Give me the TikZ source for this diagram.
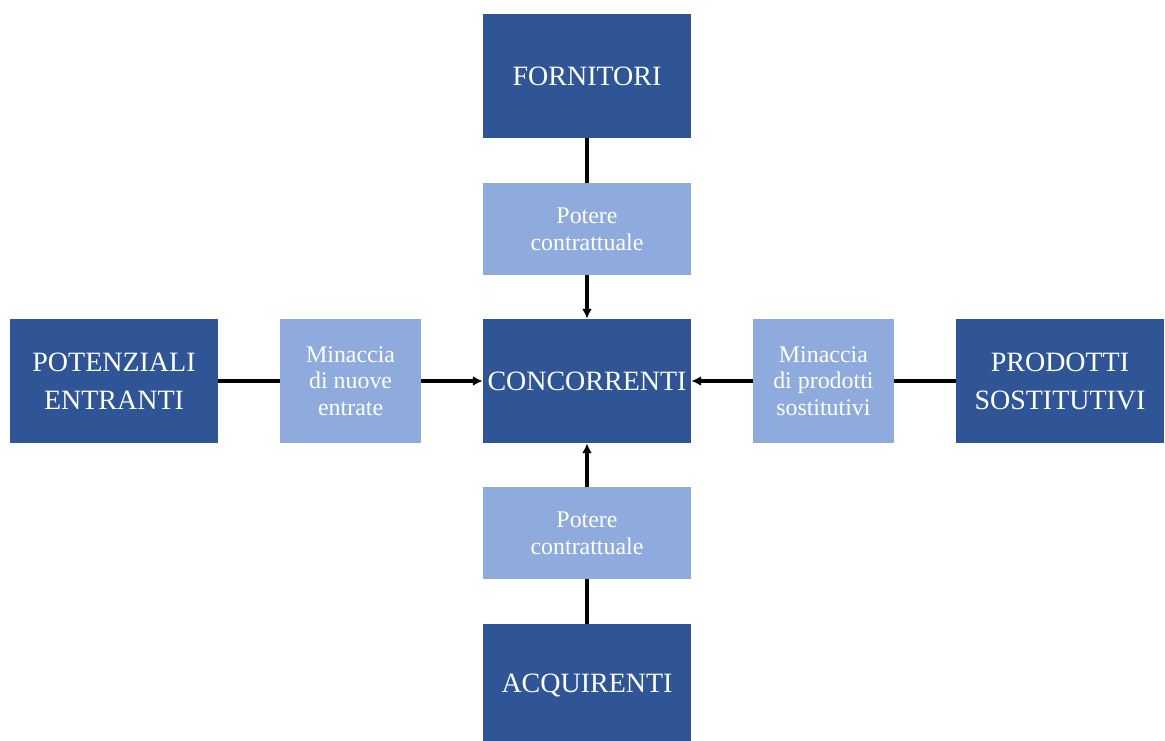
\documentclass[tikz,border=0pt]{standalone}
\usepackage{fontspec}
\setmainfont{Liberation Serif}
\usetikzlibrary{positioning,arrows.meta}
\definecolor{forcedark}{HTML}{2F5597}
\definecolor{forcelight}{HTML}{8FAADC}
\begin{document}
\begin{tikzpicture}[
        node distance=3.8cm,
        force/.style={rectangle, fill=forcedark, text=white, text width=5.2cm, minimum width=5.2cm, minimum height=3.1cm, align=center, inner sep=0pt, font=\fontsize{19.9}{27}\selectfont},
        threat/.style={rectangle, fill=forcelight, text=white, minimum width=5.2cm, minimum height=2.3cm, align=center, inner sep=0pt, font=\fontsize{17}{19}\selectfont},
        line/.style={draw, line width=2.4pt},
        arrow/.style={draw, -{Latex[length=7pt,width=7pt]}, line width=2.4pt}
    ]
        \node [force] (rivals) {CONCORRENTI};
        \useasboundingbox (-14.675,-8.975) rectangle (14.45,9.525);
        \node [threat, above of=rivals] (supplypow) {Potere\\contrattuale};
        \node [force, above of=rivals, node distance=7.625cm] (suppliers) {FORNITORI};
        \node [threat, below of=rivals] (buypow) {Potere\\contrattuale};
        \node [force, below of=rivals, node distance=7.625cm] (buyers) {ACQUIRENTI};
        \node [threat, left of=rivals, node distance=5.91cm, minimum width=3.525cm, minimum height=3.1cm] (newthreat) {Minaccia\\di nuove\\entrate};
        \node [force, left of=rivals, node distance=11.825cm] (entrants) {POTENZIALI\\ENTRANTI};
        \node [threat, right of=rivals, node distance=5.91cm, minimum width=3.525cm, minimum height=3.1cm] (subthreat) {Minaccia\\di prodotti\\sostitutivi};
        \node [force, right of=rivals, node distance=11.825cm] (substitutes) {PRODOTTI\\SOSTITUTIVI};

        \path [line] (suppliers) -- (supplypow);
        \path [arrow] (supplypow) -- (rivals);
        \path [line] (buyers) -- (buypow);
        \path [arrow] (buypow) -- (rivals);
        \path [line] (entrants) -- (newthreat);
        \path [arrow] (newthreat) -- (rivals);
        \path [line] (substitutes) -- (subthreat);
        \path [arrow] (subthreat) -- (rivals);
    \end{tikzpicture}
\end{document}
